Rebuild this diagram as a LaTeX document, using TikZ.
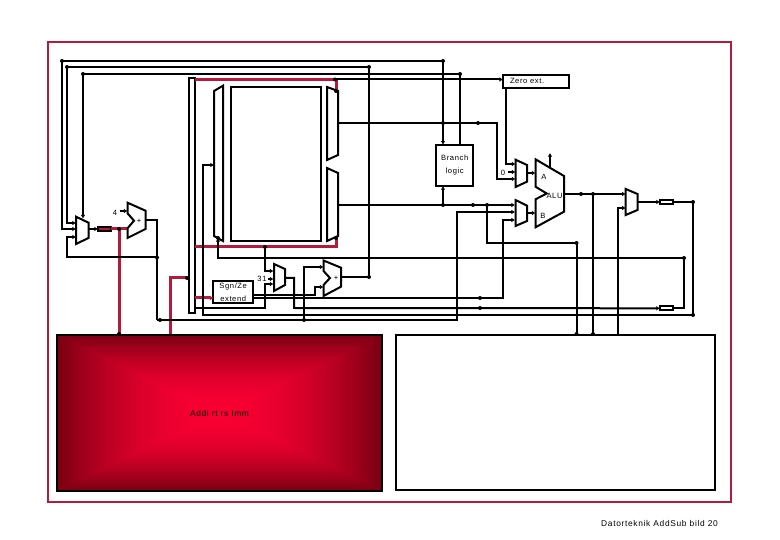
\documentclass[tikz,border=0pt]{standalone}
\usepackage{fontspec}
\usetikzlibrary{arrows.meta}
\newfontfamily\lab[LetterSpace=8]{Liberation Sans}
\definecolor{frameRed}{HTML}{B5193C}
\definecolor{hotRed}{HTML}{F80032}
\definecolor{deepRed}{HTML}{7A0012}
\tikzset{
 wire/.style={line width=2pt,draw=black,line join=miter},
 arw/.style={wire,-{Latex[length=3.6pt,width=4.6pt]}},
 redwire/.style={line width=3pt,draw=frameRed},
 redarw/.style={redwire,-{Latex[length=3.6pt,width=5pt]},shorten >=0pt},
 part/.style={line width=2pt,draw=black,fill=white,line join=miter},
 blk/.style={draw=black,line width=2pt,fill=white,inner sep=0pt,outer sep=0pt,align=center},
 txt/.style={font=\lab\fontsize{7.6}{13}\selectfont,text=black},
 bigtxt/.style={font=\lab\fontsize{8.4}{13}\selectfont,text=black},
 tag/.style={txt,inner sep=0pt},
 reg/.style={draw=black,line width=2pt,fill=white,minimum width=13pt,minimum height=4pt,inner sep=0pt,outer sep=0pt},
}
\begin{document}
\begin{tikzpicture}[x=1pt,y=-1pt]
\useasboundingbox (0,0) rectangle (780,540);
% frame
\draw[draw=frameRed,line width=2pt] (47.5,42) rectangle (731,502);
% left panel shading
\foreach \i in {0,...,70}{
  \pgfmathsetmacro\tt{1-\i/70}
  \pgfmathsetmacro\pp{100*(1-\tt*\tt)}
  \fill[hotRed!\pp!deepRed] ({219.5-162.5*\tt},{413-78*\tt}) rectangle ({219.5+162.5*\tt},{413+78*\tt});
}
\node[blk,fill=none,bigtxt,minimum width=325pt,minimum height=156pt] (instr) at (219.5,413) {Addi rt rs Imm};
\node[blk,minimum width=319pt,minimum height=155pt] (ctrl) at (555.5,412.5) {};
\node[bigtxt,inner sep=0pt] (foot) at (659.5,523) {Datorteknik AddSub bild 20};
% blocks
\node[blk,minimum width=90pt,minimum height=154pt] (regs) at (276,164) {};
\node[blk,txt,minimum width=36.5pt,minimum height=41.5pt] (branch) at (454.7,165.4) {Branch\\logic};
\node[blk,txt,minimum width=66pt,minimum height=13.4pt] (zero) at (536,81.4) {\makebox[66pt][l]{\hspace{7pt}Zero ext.}};
\node[blk,txt,minimum width=39.5pt,minimum height=22.5pt] (sgn) at (233.2,292) {Sgn/Ze\\extend};
\node[blk,minimum width=5.5pt,minimum height=235.6pt] (bus) at (192.2,195.5) {};
\node[reg,fill=frameRed] (pcreg) at (104.5,229) {};
\node[reg] (rega) at (666.5,202) {};
\node[reg] (regb) at (666.5,308.3) {};
\node[tag] (four) at (115,213) {4};
\node[tag] (zerotag) at (503,172.5) {0};
\node[tag] (thirtyone) at (262,279) {31};
% coordinates
\foreach \n/\x/\y in {
 j1/62/61, j2/67/67, j3/369/67, j3b/369/277, j4/83/74, j5/460/74, j6/335/79.5, b1/443/61,
 pcT/83/218.5, pcA/76/223, pcB/76/229, pcC/76/237, pcO/88.5/229, c1/67/257.5, j7/157/257.5,
 adA/127.5/229, adB/127.5/211, adO/145.5/220, j8/119/229, j9/119/334, s4/120/211,
 c2/157/320, j20/160/320, c3/457/320, c4/457/212, mbB/515/212,
 rt1/195/79.5, rt2/336/91, rb1/195/247, rb2/336/247, rb3/336/238, j11/265/247,
 rs1/195/298, rm1/170/334, rm2/170/278, rm3/187/278,
 j10/304/320, c5/304/267, ad2A/323.5/267, ad2B/323.5/287, ad2O/341/277,
 s1/253/295, s2/315/295, s3/315/287, t1/253/298, t2/503/298, t3/503/220, mbC/515/220, j12/480/298,
 m31A/273.5/271, m31B/273.5/279, m31C/273.5/284, m31O/285/278, s31/268/279,
 c6/265/271, c7/265/284, c8/265/308, b2/195/308, c9/294/278, c10/294/308, j13/480/308,
 l1/214/165, c11/203/165, c12/203/315, c13/693/315, c14/693/202, m1/218/238, c15/218/258,
 c16/684/258, c17/684/308.3, u1/338/123, c18/497/123, c19/497/179, maC/515.5/179, j14/443/123, j15/478/123,
 v1/338/205, mbA/515/205, j16/443/205, j17/473/205, j18/487/205, c20/487/243, j19/576.5/243, j21/576.5/334,
 z1/506/88, c21/506/164, maA/515.5/164, s0/508/172, maB/515.5/172, maO/527/173, alA/535.5/173, mbO/527/213, alB/535.5/213,
 al1/550/167, al2/550/153, alO/564/194, m3A/625.7/194, j22/581/194, j23/593/194, j24/593/334,
 c22/618/334, c23/618/208, m3B/625.7/208, m3O/637.5/202}
 {\coordinate (\n) at (\x,\y);}
% red wires
\draw[redwire] (rt1) -- (j6 -| rt2) -- (rt2);
\draw[redwire] (rb1) -- (rb2) -- (rb3);
\draw[redarw] (rs1) -- (sgn.west |- rs1);
\draw[redwire] (rm1) -- (rm2) -- (rm3);
\draw[redwire] (pcreg.east) -- (adA);
\draw[redwire] (j8) -- (j9);
% black wires
\draw[wire] (j1) -- (b1);
\draw[arw] (j1) |- (pcB);
\draw[arw] (b1) -- (b1 |- branch.north);
\draw[wire] (j2) -- (j3) -- (j3b) -- (ad2O);
\draw[arw] (j2) |- (pcA);
\draw[wire] (j4) -- (j5);
\draw[arw] (j4) -- (pcT);
\draw[wire] (j5) -- (j5 |- branch.north);
\draw[arw] (j6) -- (zero.west |- j6);
\draw[arw] (j7) -- (c1) |- (pcC);
\draw[arw] (pcO) -- (pcreg.west);
\draw[arw] (s4) -- (adB);
\draw[wire] (adO) -| (c2);
\draw[arw] (c2) -- (c3) -- (c4) -- (mbB);
\draw[arw] (j10) -- (c5) -- (ad2A);
\draw[arw] (s1) -- (s2) -- (s3) -- (ad2B);
\draw[arw] (t1) -- (t2) -- (t3) -- (mbC);
\draw[arw] (j11) -- (c6) -- (m31A);
\draw[arw] (s31) -- (m31B);
\draw[arw] (b2) -- (c8) -- (c7) -- (m31C);
\draw[arw] (m31O) -- (c9) -- (c10) -- (regb.west);
\draw[arw] (c14) -- (c13) -- (c12) -- (c11) -- (l1);
\draw[wire] (rega.east) -- (c14);
\draw[arw] (regb.east) -- (c17) -- (c16) -- (c15) -- (m1);
\draw[arw] (u1) -- (c18) -- (c19) -- (maC);
\draw[arw] (v1) -- (mbA);
\draw[arw] (j16) -- (j16 |- branch.south);
\draw[wire] (j18) -- (c20) -- (j19) -- (j21);
\draw[arw] (z1) -- (c21) -- (maA);
\draw[arw] (s0) -- (maB);
\draw[arw] (maO) -- (alA);
\draw[arw] (mbO) -- (alB);
\draw[arw] (al1) -- (al2);
\draw[arw] (alO) -- (m3A);
\draw[wire] (j23) -- (j24);
\draw[arw] (c22) -- (c23) -- (m3B);
\draw[arw] (m3O) -- (rega.west);
% muxes and datapath shapes
\draw[part] (76,216.7) -- (88.5,222.7) -- (88.5,238) -- (76,244) -- cycle;
\draw[part] (127.5,202.7) -- (145.5,210.7) -- (145.5,229) -- (127.5,238) -- (127.5,228.3) -- (134,220.7) -- (127.5,213.3) -- cycle;
\draw[part] (323.5,260.5) -- (341,267.7) -- (341,286.7) -- (323.5,296) -- (323.5,285) -- (330,278) -- (323.5,271) -- cycle;
\draw[part] (274,264) -- (285,269) -- (285,285) -- (274,291) -- cycle;
\draw[part] (214,91) -- (223,85.7) -- (223,241) -- (214,236) -- cycle;
\draw[part] (327,87) -- (338,91) -- (338,155) -- (327,160) -- cycle;
\draw[part] (327,168) -- (338,173) -- (338,236) -- (327,241) -- cycle;
\draw[part] (515.5,159.7) -- (527,165) -- (527,181.7) -- (515.5,187) -- cycle;
\draw[part] (515.5,200) -- (527,205.7) -- (527,221) -- (515.5,226) -- cycle;
\draw[part] (535.5,159.3) -- (564,176) -- (564,211.7) -- (535.5,227.3) -- (535.5,199.3) -- (546.7,193.5) -- (535.5,186.7) -- cycle;
\draw[part] (625.7,189) -- (637.5,194) -- (637.5,210) -- (625.7,215) -- cycle;
% labels on top of shapes
\node[tag] (alutag) at (554.5,196) {ALU};
\node[tag] (atag) at (544,176.5) {A};
\node[tag] (btag) at (543,215.5) {B};
\node[tag] (plusa) at (139,221) {+};
\node[tag] (plusb) at (336,278) {+};
% junction dots
\foreach \p in {j1,j2,j3,j4,j5,j6,b1,j7,j8,j9,j20,j10,j11,j12,j13,j14,j15,j16,j17,j18,j19,j21,j22,j23,j24,rm3,rt2,rb3,c16,c13,m1,c14,j3b}
 {\fill[black] (\p) circle (2pt);}
\end{tikzpicture}
\end{document}
